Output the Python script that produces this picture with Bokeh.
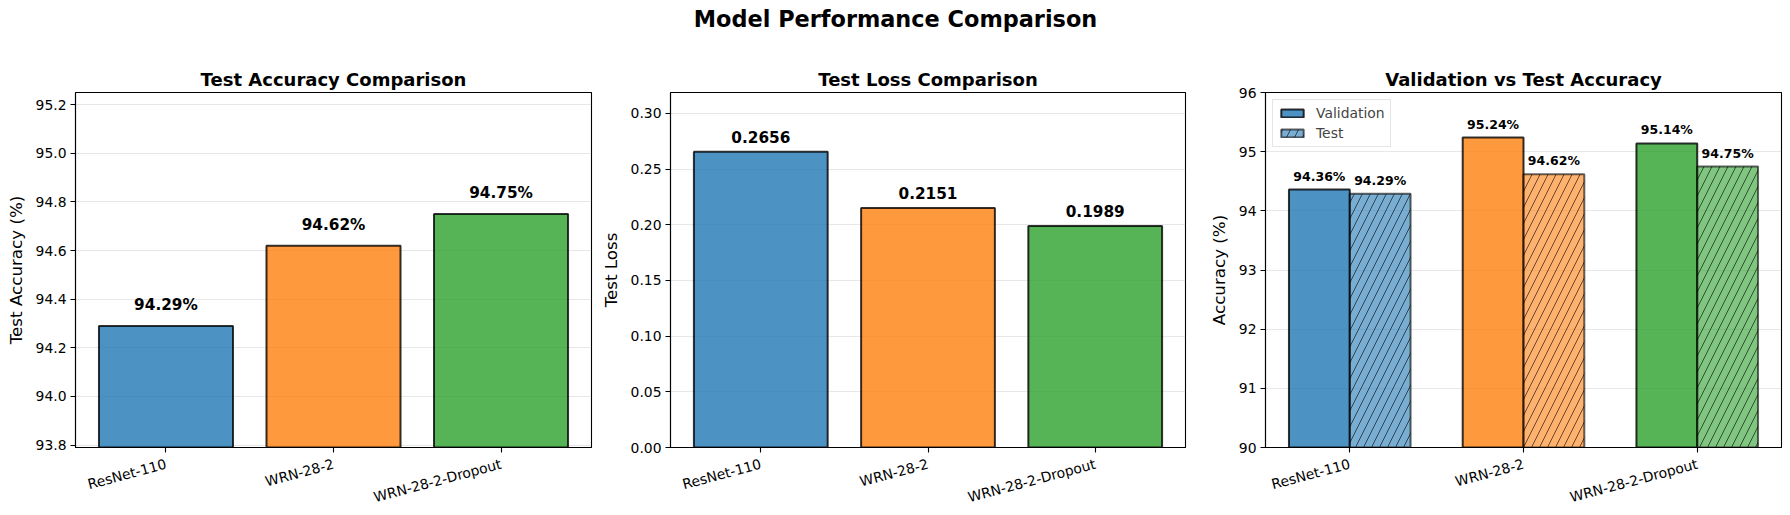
import math
from bokeh.plotting import figure
from bokeh.models import Range1d, FixedTicker, NumeralTickFormatter, Legend, LegendItem, ColumnDataSource
from bokeh.layouts import column, row
from bokeh.embed import file_html
from bokeh.resources import INLINE
from bokeh.core.properties import value

# ---------------- data ----------------
models = ["ResNet-110", "WRN-28-2", "WRN-28-2-Dropout"]
test_acc = [94.29, 94.62, 94.75]
test_loss = [0.2656, 0.2151, 0.1989]
val_acc = [94.36, 95.24, 95.14]
colors = ["#1f77b4", "#ff7f0e", "#2ca02c"]

acc_ticks = [93.8, 94.0, 94.2, 94.4, 94.6, 94.8, 95.0, 95.2]
loss_ticks = [0.00, 0.05, 0.10, 0.15, 0.20, 0.25, 0.30]
cmp_ticks = [90, 91, 92, 93, 94, 95, 96]

FONT = "DejaVu Sans"
xpos = list(range(len(models)))


def make_fig(width, left, right, xr, yr, title, ylabel, yticks, yfmt):
    p = figure(width=width, height=465, x_range=xr, y_range=yr,
               output_backend="svg", toolbar_location=None,
               min_border_left=left, min_border_right=right,
               min_border_top=42, min_border_bottom=67)
    p.title.text = title
    p.title.text_font = FONT
    p.title.text_font_size = "18px"
    p.title.text_font_style = "bold"
    p.title.text_color = "black"
    p.title.align = "center"
    p.title.standoff = 6
    p.outline_line_color = "black"
    p.outline_line_width = 1.1
    p.outline_line_alpha = 1.0
    p.xgrid.visible = False
    p.ygrid.grid_line_color = "#b0b0b0"
    p.ygrid.grid_line_alpha = 0.3
    p.ygrid.grid_line_width = 1.1
    p.yaxis.ticker = FixedTicker(ticks=yticks)
    p.yaxis.formatter = NumeralTickFormatter(format=yfmt)
    p.xaxis.ticker = FixedTicker(ticks=xpos)
    p.xaxis.major_label_overrides = {i: m for i, m in zip(xpos, models)}
    p.xaxis.major_label_orientation = math.radians(15)
    for ax in (p.xaxis[0], p.yaxis[0]):
        ax.axis_line_color = "black"
        ax.axis_line_width = 1.1
        ax.major_tick_line_color = "black"
        ax.major_tick_line_width = 1.1
        ax.major_tick_out = 5
        ax.major_tick_in = 0
        ax.minor_tick_out = 0
        ax.minor_tick_in = 0
        ax.major_label_text_font = FONT
        ax.major_label_text_font_size = "13.9px"
        ax.major_label_text_color = "black"
        ax.major_label_standoff = 4
    p.xaxis.major_label_standoff = 11
    p.yaxis.axis_label = ylabel
    p.yaxis.axis_label_text_font = FONT
    p.yaxis.axis_label_text_font_size = "16.7px"
    p.yaxis.axis_label_text_font_style = "normal"
    p.yaxis.axis_label_text_color = "black"
    p.yaxis.axis_label_standoff = 7
    return p


# ---------------- suptitle ----------------
pt = figure(width=1790, height=50, x_range=Range1d(0, 1), y_range=Range1d(0, 50),
            output_backend="svg", toolbar_location=None, min_border=0,
            x_axis_type=None, y_axis_type=None)
pt.grid.visible = False
pt.outline_line_color = None
pt.text(x=[0.5], y=[32], text=["Model Performance Comparison"],
        text_align="center", text_baseline="middle",
        text_font=value(FONT), text_font_style="bold", text_font_size="22.4px",
        text_color="black")

# ---------------- panel 1 ----------------
yr1 = Range1d(min(test_acc) - 0.5, max(test_acc) + 0.5)
p1 = make_fig(595, 75, 4, Range1d(-0.54, 2.54), yr1,
              "Test Accuracy Comparison", "Test Accuracy (%)", acc_ticks, "0.0")
s1 = ColumnDataSource(dict(x=xpos, top=test_acc, color=colors,
                           ty=[v + 0.05 for v in test_acc],
                           label=[f"{v:.2f}%" for v in test_acc]))
p1.vbar(x="x", top="top", bottom=0, width=0.8, source=s1, fill_color="color",
        fill_alpha=0.8, line_color="black", line_alpha=0.8, line_width=2)
p1.text(x="x", y="ty", text="label", source=s1, text_align="center",
        text_baseline="bottom", text_font=value(FONT), text_font_style="bold",
        text_font_size="15.3px", text_color="black")

# ---------------- panel 2 ----------------
yr2 = Range1d(0, max(test_loss) * 1.2)
p2 = make_fig(594, 75, 4, Range1d(-0.54, 2.54), yr2,
              "Test Loss Comparison", "Test Loss", loss_ticks, "0.00")
s2 = ColumnDataSource(dict(x=xpos, top=test_loss, color=colors,
                           ty=[v + 0.008 for v in test_loss],
                           label=[f"{v:.4f}" for v in test_loss]))
p2.vbar(x="x", top="top", bottom=0, width=0.8, source=s2, fill_color="color",
        fill_alpha=0.8, line_color="black", line_alpha=0.8, line_width=2)
p2.text(x="x", y="ty", text="label", source=s2, text_align="center",
        text_baseline="bottom", text_font=value(FONT), text_font_style="bold",
        text_font_size="15.3px", text_color="black")

# ---------------- panel 3 ----------------
bw = 0.35
p3 = make_fig(601, 76, 9, Range1d(-0.485, 2.485), Range1d(90, 96),
              "Validation vs Test Accuracy", "Accuracy (%)", cmp_ticks, "0")
s3v = ColumnDataSource(dict(x=[i - bw / 2 for i in xpos], top=val_acc, color=colors,
                            ty=[v + 0.1 for v in val_acc],
                            label=[f"{v:.2f}%" for v in val_acc]))
s3t = ColumnDataSource(dict(x=[i + bw / 2 for i in xpos], top=test_acc, color=colors,
                            ty=[v + 0.1 for v in test_acc],
                            label=[f"{v:.2f}%" for v in test_acc]))
rv = p3.vbar(x="x", top="top", bottom=0, width=bw, source=s3v, fill_color="color",
             fill_alpha=0.8, line_color="black", line_alpha=0.8, line_width=2)
rt = p3.vbar(x="x", top="top", bottom=0, width=bw, source=s3t, fill_color="color",
             fill_alpha=0.6, line_color="black", line_alpha=0.6, line_width=2,
             hatch_pattern="/", hatch_color="black", hatch_alpha=0.6,
             hatch_scale=16, hatch_weight=1)
for s in (s3v, s3t):
    p3.text(x="x", y="ty", text="label", source=s, text_align="center",
            text_baseline="bottom", text_font=value(FONT), text_font_style="bold",
            text_font_size="12.5px", text_color="black")
legend = Legend(items=[LegendItem(label="Validation", renderers=[rv], index=0),
                       LegendItem(label="Test", renderers=[rt], index=0)],
                location="top_left")
legend.label_text_font = FONT
legend.label_text_font_size = "13.9px"
legend.glyph_width = 28
legend.glyph_height = 10
legend.label_standoff = 10
legend.padding = 5
legend.spacing = 4
legend.margin = 7
legend.border_line_color = "#cccccc"
legend.border_line_width = 1
legend.background_fill_alpha = 0.8
p3.add_layout(legend)

layout = column(pt, row(p1, p2, p3, spacing=0), spacing=0)
open("out.html", "w").write(file_html(layout, INLINE))
